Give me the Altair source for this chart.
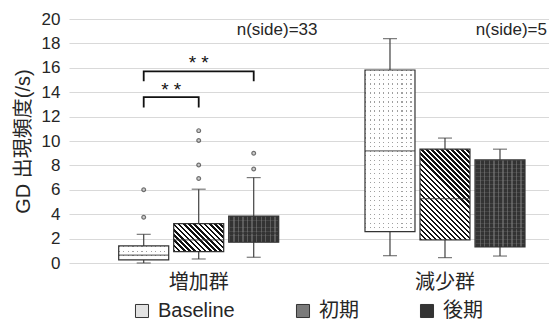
import math
import altair as alt
import pandas as pd

# ---------------- data ----------------
groups = ["増加群", "減少群"]
phases = ["Baseline", "初期", "後期"]

box_group = ["増加群", "増加群", "増加群", "減少群", "減少群", "減少群"]
box_phase = ["Baseline", "初期", "後期", "Baseline", "初期", "後期"]
whisker_low = [0.00, 0.33, 0.47, 0.60, 0.44, 0.57]
quart_1 = [0.25, 0.93, 1.70, 2.57, 1.89, 1.31]
median = [0.65, 1.90, 2.45, 9.19, 5.28, 2.82]
quart_3 = [1.40, 3.23, 3.85, 15.82, 9.33, 8.45]
whisker_high = [2.35, 6.05, 7.00, 18.39, 10.24, 9.33]

out_group = ["増加群"] * 8
out_phase = ["Baseline", "Baseline", "初期", "初期", "初期", "初期", "後期", "後期"]
out_value = [3.75, 6.00, 6.92, 8.04, 10.04, 10.85, 7.70, 9.00]

sig_id = ["a", "a", "a", "a", "b", "b", "b", "b"]
sig_phase = ["Baseline", "Baseline", "初期", "初期", "Baseline", "Baseline", "後期", "後期"]
sig_y = [12.75, 13.6, 13.6, 12.75, 14.9, 15.7, 15.7, 14.9]
sig_order = [0, 1, 2, 3, 0, 1, 2, 3]
sig_text_y = [14.2, 16.4]
sig_text = ["* *", "* *"]

n_text = ["n(side)=33", "n(side)=5"]
n_text_y = [19.1, 19.1]

# ---------------- style ----------------
Y_MAX = 20
PLOT_W, PLOT_H = 480, 244
P_INNER, P_OUTER, ALIGN = 0.33, 0.1395, 0.687
STEP = PLOT_W / (len(groups) - P_INNER + 2 * P_OUTER)
SUB = STEP * (1 - P_INNER) / len(phases)
BAR_W = round(SUB * 0.91)
LATIN = "Liberation Sans, Noto Sans CJK JP"
CJK = "Noto Sans CJK JP"
TXT = "#262626"
EDGE = "#333333"

box_df = pd.DataFrame({"group": box_group, "phase": box_phase, "lo": whisker_low,
                       "q1": quart_1, "med": median, "q3": quart_3, "hi": whisker_high})
out_df = pd.DataFrame({"group": out_group, "phase": out_phase, "v": out_value})
sig_df = pd.DataFrame({"group": "増加群", "id": sig_id, "phase": sig_phase,
                       "y": sig_y, "o": sig_order})

xscale = alt.Scale(domain=groups, paddingInner=P_INNER, paddingOuter=P_OUTER, align=ALIGN)
xaxis = alt.Axis(title=None, domain=False, ticks=False, tickSize=0, grid=False,
                 labelFont=CJK, labelFontSize=20, labelColor=TXT, labelPadding=9, labelAngle=0)
yaxis = alt.Axis(title="GD 出現頻度(/s)", titleFont=LATIN, titleFontSize=20,
                 titleFontWeight="normal", titleColor=TXT, titlePadding=8,
                 labelFont=LATIN, labelFontSize=17, labelColor=TXT, labelPadding=9,
                 labelOverlap=False, labelBound=False,
                 domain=False, ticks=False, tickSize=0, values=list(range(0, 21, 2)),
                 gridColor="#d9d9d9", gridWidth=1)


def X():
    return alt.X("group:N", scale=xscale, axis=xaxis)


def XO():
    return alt.XOffset("phase:N", scale=alt.Scale(domain=phases, paddingInner=0, paddingOuter=0))


def Y(field):
    return alt.Y(f"{field}:Q", scale=alt.Scale(domain=[0, Y_MAX]), axis=yaxis)


def stripes(n, on, off, duty, x1, y1, x2, y2):
    stops = []
    for i in range(n):
        a, b, c = i / n, (i + duty) / n, (i + 1) / n
        stops += [alt.GradientStop(offset=round(a, 5), color=on),
                  alt.GradientStop(offset=round(b, 5), color=on),
                  alt.GradientStop(offset=round(b, 5), color=off),
                  alt.GradientStop(offset=round(c, 5), color=off)]
    return alt.LinearGradient(gradient="linear", stops=stops, x1=x1, y1=y1, x2=x2, y2=y2)


def box_chart(g, p):
    return alt.Chart(box_df).transform_filter(
        (alt.datum.group == g) & (alt.datum.phase == p)).encode(x=X(), xOffset=XO(), y=Y("q1"), y2="q3")


layers = []
# whiskers
layers.append(alt.Chart(box_df).mark_rule(color="#404040", strokeWidth=1.2).encode(
    x=X(), xOffset=XO(), y=Y("lo"), y2="hi"))
# base boxes (carry legend)
layers.append(alt.Chart(box_df).mark_bar(width=BAR_W).encode(
    x=X(), xOffset=XO(), y=Y("q1"), y2="q3",
    fill=alt.Fill("phase:N", scale=alt.Scale(domain=phases, range=["#e2e2e2", "#7a7a7a", "#333333"]),
                  legend=alt.Legend(title=None, orient="none", legendX=63, legendY=282,
                                    direction="horizontal", symbolType="square", symbolSize=170,
                                    symbolStrokeColor=EDGE, symbolStrokeWidth=1,
                                    labelFont=LATIN, labelFontSize=20, labelColor=TXT,
                                    labelOffset=6, columnPadding=58))))

# pattern overlays
vcols = max(1, round(BAR_W / 4.5))
for g, p, q1, q3 in zip(box_group, box_phase, quart_1, quart_3):
    H = (q3 - q1) * PLOT_H / Y_MAX
    W = BAR_W
    if p == "Baseline":
        layers.append(box_chart(g, p).mark_bar(width=BAR_W, fill=stripes(vcols, "#a0a0a0", "#ffffff", 0.26, 0, 0, 1, 0)))
        rows = max(1, round(H / 4.5))
        layers.append(box_chart(g, p).mark_bar(width=BAR_W, fill=stripes(rows, "rgba(255,255,255,0)", "#ffffff", 0.26, 0, 0, 0, 1)))
    elif p == "初期":
        lam = (W + H) / (W * W + H * H)
        n = max(1, round((W + H) / math.sqrt(2) / 3.6))
        layers.append(box_chart(g, p).mark_bar(width=BAR_W, fill=stripes(n, "#111111", "#ffffff", 0.5, 0, 1, lam * W, 1 - lam * H)))
    else:
        layers.append(box_chart(g, p).mark_bar(width=BAR_W, fill=stripes(vcols, "rgba(160,160,160,0.38)", "rgba(0,0,0,0)", 0.3, 0, 0, 1, 0)))
        rows = max(1, round(H / 4))
        layers.append(box_chart(g, p).mark_bar(width=BAR_W, fill=stripes(rows, "rgba(140,140,140,0.22)", "rgba(0,0,0,0)", 0.25, 0, 0, 0, 1)))

# outlines
layers.append(alt.Chart(box_df).mark_bar(width=BAR_W, fill="transparent", stroke=EDGE, strokeWidth=1.2).encode(
    x=X(), xOffset=XO(), y=Y("q1"), y2="q3"))
# medians
layers.append(alt.Chart(box_df).mark_tick(size=BAR_W, thickness=1.2, color=EDGE).encode(
    x=X(), xOffset=XO(), y=Y("med")))
# caps
layers.append(alt.Chart(box_df).mark_tick(size=14, thickness=1.2, color="#404040").encode(
    x=X(), xOffset=XO(), y=Y("lo")))
layers.append(alt.Chart(box_df).mark_tick(size=14, thickness=1.2, color="#404040").encode(
    x=X(), xOffset=XO(), y=Y("hi")))
# outliers
layers.append(alt.Chart(out_df).mark_point(shape="circle", size=14, filled=False, stroke="#333333",
                                           strokeWidth=1.2, fill="#bbbbbb").encode(
    x=X(), xOffset=XO(), y=Y("v")))
# brackets
layers.append(alt.Chart(sig_df).mark_line(color="#111111", strokeWidth=1.8).encode(
    x=X(), xOffset=XO(), y=Y("y"), order="o:Q", detail="id:N"))
sig_t = pd.DataFrame({"group": "増加群", "phase": ["初期", "初期"], "y": sig_text_y, "t": sig_text})
layers.append(alt.Chart(sig_t.iloc[[0]]).mark_text(font=LATIN, fontSize=19, color="#111111", dx=-SUB / 2).encode(
    x=X(), xOffset=XO(), y=Y("y"), text="t:N"))
layers.append(alt.Chart(sig_t.iloc[[1]]).mark_text(font=LATIN, fontSize=19, color="#111111").encode(
    x=X(), xOffset=XO(), y=Y("y"), text="t:N"))
# n labels
n_df = pd.DataFrame({"group": groups, "phase": ["後期", "後期"], "y": n_text_y, "t": n_text})
layers.append(alt.Chart(n_df.iloc[[0]]).mark_text(font=LATIN, fontSize=17, color=TXT, align="left", dx=-17).encode(
    x=X(), xOffset=XO(), y=Y("y"), text="t:N"))
layers.append(alt.Chart(n_df.iloc[[1]]).mark_text(font=LATIN, fontSize=17, color=TXT, align="right", dx=47).encode(
    x=X(), xOffset=XO(), y=Y("y"), text="t:N"))

chart = alt.layer(*layers).properties(
    width=PLOT_W, height=PLOT_H,
    autosize=alt.AutoSizeParams(type="none"),
    padding={"left": 61, "top": 11, "right": 0, "bottom": 60},
    background="white",
).configure_view(stroke="transparent")

chart.save("out.html", embed_options={"renderer": "svg", "actions": False})
